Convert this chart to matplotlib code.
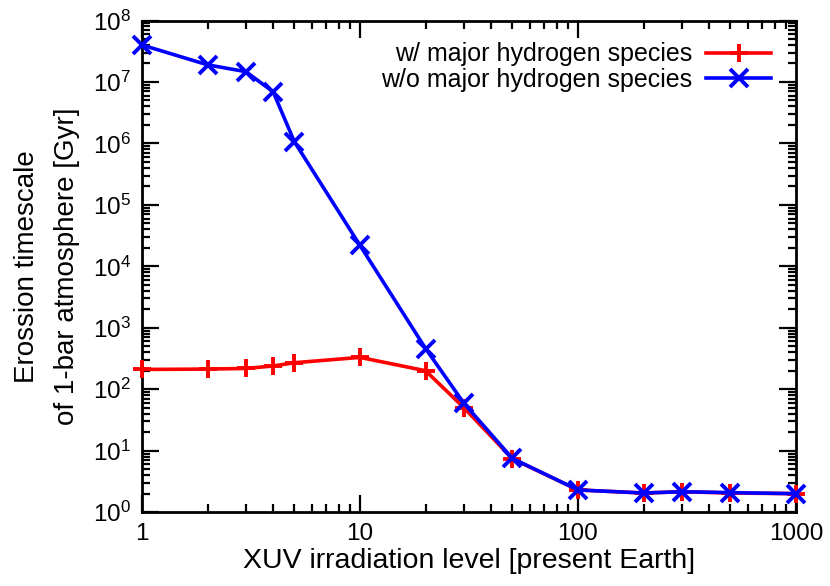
import numpy as np
import matplotlib
matplotlib.use("Agg")
import matplotlib.pyplot as plt
from matplotlib.ticker import LogLocator, FixedLocator, FixedFormatter, NullFormatter

plt.rcParams['font.family'] = ['Liberation Sans', 'DejaVu Sans']
plt.rcParams['mathtext.fontset'] = 'custom'
plt.rcParams['mathtext.rm'] = 'Liberation Sans'
plt.rcParams['mathtext.it'] = 'Liberation Sans'

# XUV level (present Earth = 1)
xuv = [1, 2, 3, 4, 5, 10, 20, 30, 50, 100, 200, 300, 500, 1000]
# erosion timescale [Gyr]
with_h = [210, 213, 218, 239, 270, 330, 200, 50, 7.4, 2.3, 2.05, 2.15, 2.05, 2.0]
without_h = [4.0e7, 1.9e7, 1.47e7, 6.9e6, 1.07e6, 2.2e4, 460, 59, 7.5, 2.3, 2.05, 2.15, 2.08, 2.0]

x_ticks = [1, 10, 100, 1000]
x_ticklabels = ['1', '10', '100', '1000']

fig = plt.figure(figsize=(8.3, 5.86), dpi=100)
ax = fig.add_axes([0.171, 0.126, 0.788, 0.839])

ax.plot(xuv, with_h, color='#ff0000', lw=2.6, marker='+', ms=13, mew=2.8,
        label='w/ major hydrogen species', clip_on=False, zorder=3)
ax.plot(xuv, without_h, color='#0000ff', lw=2.6, marker='x', ms=13, mew=2.8,
        label='w/o major hydrogen species', clip_on=False, zorder=4)

ax.set_xscale('log')
ax.set_yscale('log')
ax.set_xlim(1, 1000)
ax.set_ylim(1, 1e8)

ax.xaxis.set_major_locator(FixedLocator(x_ticks))
ax.xaxis.set_major_formatter(FixedFormatter(x_ticklabels))
ax.xaxis.set_minor_locator(LogLocator(base=10, subs=np.arange(2, 10), numticks=20))
ax.xaxis.set_minor_formatter(NullFormatter())
ax.yaxis.set_major_locator(LogLocator(base=10, numticks=20))
ax.yaxis.set_minor_locator(LogLocator(base=10, subs=np.arange(2, 10), numticks=20))
ax.yaxis.set_minor_formatter(NullFormatter())

ax.tick_params(which='both', direction='in', top=True, right=True, width=1.6)
ax.tick_params(which='major', length=12, labelsize=17.5, pad=8)
ax.tick_params(which='minor', length=6)
for s in ax.spines.values():
    s.set_linewidth(2)

ax.set_xlabel('XUV irradiation level [present Earth]', fontsize=20.5, labelpad=2)
ax.set_ylabel('Erossion timescale\nof 1-bar atmosphere [Gyr]', fontsize=20,
              labelpad=9, linespacing=1.7)

ax.legend(loc='upper right', frameon=False, fontsize=18, handlelength=2.6,
          markerfirst=False, borderaxespad=0.4, labelspacing=0.05,
          bbox_to_anchor=(0.993, 0.996), handletextpad=0.55)

fig.savefig('out.png', dpi=100)
